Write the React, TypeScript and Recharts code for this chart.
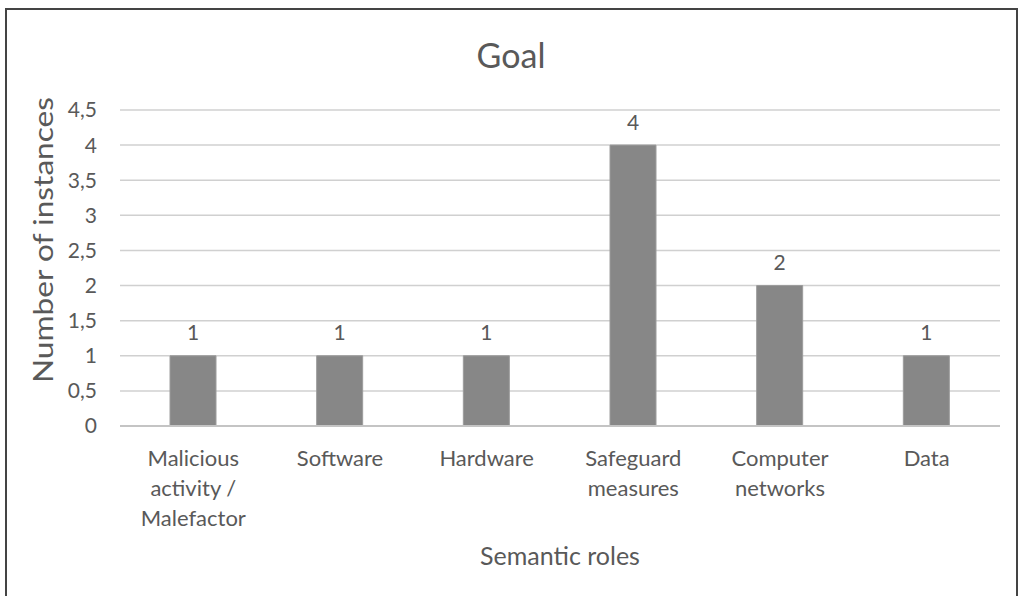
import { BarChart, Bar, XAxis, YAxis, CartesianGrid, LabelList } from 'recharts'

const categories = ['Malicious activity / Malefactor', 'Software', 'Hardware', 'Safeguard measures', 'Computer networks', 'Data']
const categoryLines = [['Malicious', 'activity /', 'Malefactor'], ['Software'], ['Hardware'], ['Safeguard', 'measures'], ['Computer', 'networks'], ['Data']]
const instances = [1, 1, 1, 4, 2, 1]
const yTicks = [0, 0.5, 1, 1.5, 2, 2.5, 3, 3.5, 4, 4.5]

const data = categories.map((name, i) => ({ name, instances: instances[i] }))

const FONT = 'Lato, "Open Sans", sans-serif'
const TEXT = '#595959'

// comma as decimal separator
const fmt = (v: number) => String(v).replace('.', ',')

function CategoryTick ({ x, y, payload }: any) {
  const lines = categoryLines[payload.index] ?? [payload.value]
  return (
    <text x={x} y={y} textAnchor="middle" fill={TEXT} fontSize={22} fontFamily={FONT}>
      {lines.map((line: string, i: number) => (
        <tspan key={i} x={x} y={y + 29 + i * 30} dominantBaseline="central">{line}</tspan>
      ))}
    </text>
  )
}

function ValueLabel ({ x, y, width, value }: any) {
  return (
    <text x={x + width / 2} y={y - 24} textAnchor="middle" dominantBaseline="central" fill={TEXT} fontSize={21} fontFamily={FONT}>
      {value}
    </text>
  )
}

export default function App () {
  return (
    <div style={{ position: 'absolute', left: 0, top: 0, width: 1018, height: 596, background: '#fff', overflow: 'hidden' }}>
      <div style={{ position: 'absolute', left: 5, top: 8, width: 1013, height: 588, boxSizing: 'border-box', borderTop: '2px solid #444', borderLeft: '2px solid #444', borderRight: '2px solid #444' }} />
      <div style={{ position: 'absolute', left: 0, top: 35, width: 1022, textAlign: 'center', lineHeight: '40px', fontSize: 34, fontFamily: FONT, color: TEXT }}>
        Goal
      </div>
      <div style={{ position: 'absolute', left: 0, top: 0 }}>
        <BarChart width={1018} height={596} data={data} margin={{ top: 110, right: 18, bottom: 0, left: 0 }}>
          <CartesianGrid vertical={false} stroke="#d0d0d0" strokeWidth={1.5} />
          <XAxis
            dataKey="name"
            height={170}
            tickLine={false}
            tickSize={0}
            axisLine={{ stroke: '#c4c4c4', strokeWidth: 2 }}
            tick={<CategoryTick />}
            interval={0}
            label={{
              content: ({ viewBox }: any) => (
                <text x={viewBox.x + viewBox.width / 2} y={viewBox.y + 129} textAnchor="middle" dominantBaseline="central" fill={TEXT} fontSize={25} fontFamily={FONT}>
                  Semantic roles
                </text>
              )
            }}
          />
          <YAxis
            width={120}
            domain={[0, 4.5]}
            ticks={yTicks}
            tickFormatter={fmt}
            axisLine={false}
            tickLine={false}
            tickSize={0}
            tickMargin={23}
            tick={{ fill: TEXT, fontSize: 21, fontFamily: FONT }}
            label={{
              content: ({ viewBox }: any) => {
                const cx = 43
                const cy = viewBox.y + 130
                return (
                  <text x={cx} y={cy} transform={`rotate(-90 ${cx} ${cy})`} textAnchor="middle" dominantBaseline="central" fill={TEXT} fontSize={26} fontFamily={FONT} textLength={286} lengthAdjust="spacingAndGlyphs">
                    Number of instances
                  </text>
                )
              }
            }}
          />
          <Bar dataKey="instances" fill="#878787" stroke="#9c9c9c" strokeWidth={1} barSize={46} isAnimationActive={false}>
            <LabelList dataKey="instances" content={<ValueLabel />} />
          </Bar>
        </BarChart>
      </div>
    </div>
  )
}
